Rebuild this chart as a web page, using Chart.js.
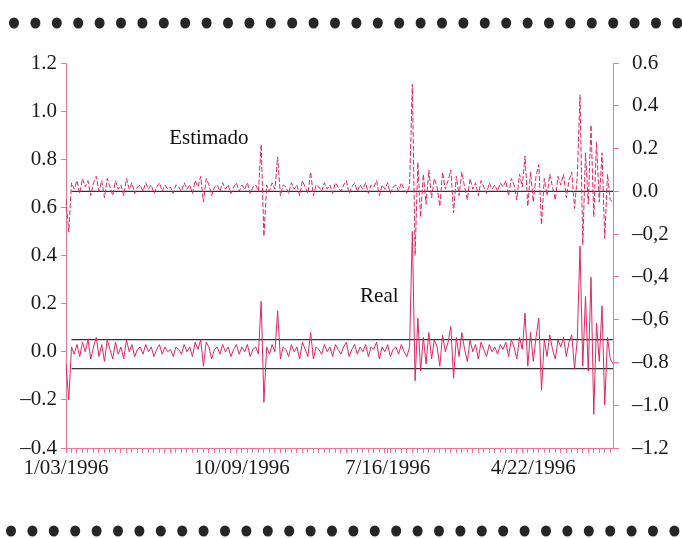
<!DOCTYPE html>
<html>
<head>
<meta charset="utf-8">
<script src="https://cdn.jsdelivr.net/npm/chart.js@4"></script>
<style>
  body { margin: 0; background: #fff; }
  #wrap { width: 682px; height: 538px; position: relative; }
</style>
</head>
<body>
<div id="wrap"><canvas id="myChart" width="682" height="538"></canvas></div>
<script>
// valores (Real = eje izq., Estimado = eje der.)
var realValues = [
  -0.05, -0.20, 0.02, -0.01, 0.03, -0.02, 0.04, 0.00, 0.05, -0.03,
  0.02, 0.06, -0.02, 0.03, -0.04, 0.05, 0.01, -0.03, 0.04, -0.01,
  0.02, -0.03, 0.05, 0.00, 0.03, -0.02, 0.01, 0.02, -0.01, 0.03,
  0.00, 0.02, -0.02, 0.01, 0.03, -0.01, 0.02, 0.00, 0.01, -0.02,
  0.02, 0.01, -0.01, 0.03, 0.00, 0.02, -0.02, 0.04, 0.01, 0.05,
  -0.06, 0.04, 0.02, -0.03, 0.01, 0.02, -0.01, 0.03, 0.00, 0.02,
  -0.02, 0.01, 0.03, -0.01, 0.02, 0.00, 0.03, -0.02, 0.01, 0.02,
  -0.01, 0.21, -0.21, 0.02, -0.01, 0.03, 0.00, 0.17, -0.03, 0.02,
  0.01, -0.02, 0.03, 0.00, 0.02, -0.03, 0.04, 0.01, -0.02, 0.08,
  -0.03, 0.02, 0.01, -0.01, 0.03, 0.00, 0.02, -0.02, 0.03, 0.01,
  -0.01, 0.02, 0.04, -0.02, 0.01, 0.03, -0.01, 0.02, 0.00, 0.03,
  -0.02, 0.02, 0.01, 0.04, -0.03, 0.02, 0.00, 0.03, -0.02, 0.01,
  0.02, -0.01, 0.03, 0.00, -0.02, 0.02, 0.50, -0.12, 0.14, -0.08,
  0.06, -0.05, 0.08, -0.03, 0.05, 0.02, -0.06, 0.07, 0.00, 0.04,
  0.105, -0.11, 0.06, -0.02, 0.08, 0.01, -0.04, 0.05, 0.00, 0.03,
  -0.03, 0.04, 0.01, -0.02, 0.03, 0.00, 0.02, -0.01, 0.03, 0.01,
  0.04, -0.02, 0.05, 0.02, -0.03, 0.06, 0.01, 0.16, -0.06, 0.08,
  -0.04, 0.06, 0.14, -0.16, 0.05, -0.02, 0.07, 0.01, -0.03, 0.05,
  0.02, 0.06, -0.02, 0.04, 0.07, -0.07, 0.05, 0.44, -0.06, 0.23,
  -0.08, 0.31, -0.26, 0.12, -0.04, 0.19, -0.22, 0.06, -0.03, -0.05
];
var estValues = [
  -0.04, -0.19, 0.04, 0.01, 0.05, -0.01, 0.06, 0.02, 0.05, -0.02,
  0.04, 0.07, 0.00, 0.05, -0.03, 0.06, 0.02, -0.02, 0.05, 0.01,
  0.03, -0.02, 0.06, 0.01, 0.04, -0.01, 0.02, 0.03, 0.00, 0.04,
  0.01, 0.03, -0.01, 0.02, 0.04, 0.00, 0.03, 0.01, 0.02, -0.01,
  0.03, 0.02, 0.00, 0.04, 0.01, 0.03, -0.01, 0.05, 0.02, 0.07,
  -0.05, 0.06, 0.03, -0.02, 0.02, 0.03, 0.00, 0.04, 0.01, 0.03,
  -0.01, 0.02, 0.04, 0.00, 0.03, 0.01, 0.04, -0.01, 0.02, 0.03,
  0.00, 0.22, -0.21, 0.03, 0.00, 0.04, 0.01, 0.16, -0.02, 0.03,
  0.02, -0.01, 0.04, 0.01, 0.03, -0.02, 0.05, 0.02, -0.01, 0.09,
  -0.02, 0.03, 0.02, 0.00, 0.04, 0.01, 0.03, -0.01, 0.04, 0.02,
  0.00, 0.03, 0.05, -0.01, 0.02, 0.04, 0.00, 0.03, 0.01, 0.04,
  -0.01, 0.03, 0.02, 0.05, -0.02, 0.03, 0.01, 0.04, -0.01, 0.02,
  0.03, 0.00, 0.04, 0.01, -0.01, 0.03, 0.50, -0.30, 0.135, -0.12,
  0.08, -0.06, 0.10, -0.03, 0.06, 0.02, -0.07, 0.09, 0.01, 0.05,
  0.10, -0.10, 0.07, -0.02, 0.09, 0.02, -0.04, 0.06, 0.01, 0.04,
  -0.02, 0.05, 0.02, -0.01, 0.04, 0.01, 0.03, 0.00, 0.04, 0.02,
  0.05, -0.02, 0.06, 0.03, -0.04, 0.08, 0.02, 0.165, -0.07, 0.09,
  -0.05, 0.07, 0.125, -0.155, 0.06, -0.02, 0.08, 0.02, -0.04, 0.07,
  0.03, 0.08, -0.03, 0.05, 0.09, -0.08, 0.07, 0.45, -0.25, 0.18,
  -0.06, 0.31, -0.12, 0.23, -0.05, 0.18, -0.22, 0.08, -0.04, -0.05
];
var categories = realValues.map(function (v, i) { return i; });

// etiquetas del eje x (indice -> fecha)
var dateTickIndex = [0, 64, 117, 170];
var dateTickText = ['1/03/1996', '10/09/1996', '7/16/1996', '4/22/1996'];

var leftTickLabels = ['\u20130.4', '\u20130.2', '0.0', '0.2', '0.4', '0.6', '0.8', '1.0', '1.2'];
var rightTickLabels = ['\u20131.2', '\u20131.0', '\u20130.8', '\u20130,6', '\u20130,4', '\u20130,2', '0.0', '0.2', '0.4', '0.6'];

// lineas negras de referencia
var realBandUpper = 0.05;
var realBandLower = -0.07;
var estZero = 0.0;
var bandStart = 2;

var pink = 'rgb(226, 38, 96)';
var axisPink = 'rgb(236, 120, 150)';
var serif = "'Liberation Serif', 'DejaVu Serif', serif";

function flatLine(v) {
  return [{ x: bandStart, y: v }, { x: categories.length - 1, y: v }];
}

// puntos negros arriba y abajo (decoracion de la pagina)
var dotsPlugin = {
  id: 'dots',
  afterDraw: function (chart) {
    var ctx = chart.ctx;
    ctx.save();
    ctx.fillStyle = '#262626';
    var rows = [[14, 23], [11, 531]];
    rows.forEach(function (r) {
      for (var x = r[0]; x < chart.width; x += 21.4) {
        ctx.beginPath();
        ctx.ellipse(x, r[1], 5, 5.5, 0, 0, Math.PI * 2);
        ctx.fill();
      }
    });
    ctx.restore();
  }
};

// textos "Estimado" y "Real" dentro del grafico
var seriesNames = ['Estimado', 'Real'];
var seriesNameAt = [[52, 'y1', 0.245], [114, 'y', 0.23]];
var namesPlugin = {
  id: 'names',
  afterDatasetsDraw: function (chart) {
    var ctx = chart.ctx;
    ctx.save();
    ctx.font = '21px ' + serif;
    ctx.fillStyle = '#111';
    ctx.textAlign = 'center';
    ctx.textBaseline = 'middle';
    seriesNames.forEach(function (t, i) {
      var p = seriesNameAt[i];
      var x = chart.scales.x.getPixelForValue(p[0]);
      var y = chart.scales[p[1]].getPixelForValue(p[2]);
      ctx.fillText(t, x, y);
    });
    ctx.restore();
  }
};

var ctx = document.getElementById('myChart').getContext('2d');
var myChart = new Chart(ctx, {
  type: 'line',
  data: {
    labels: categories,
    datasets: [
      { label: 'Real', data: realValues, yAxisID: 'y', borderColor: pink, borderWidth: 1, pointRadius: 0, tension: 0 },
      { label: 'Estimado', data: estValues, yAxisID: 'y1', borderColor: pink, borderWidth: 1, pointRadius: 0, tension: 0, borderDash: [5, 2] },
      { label: 'sup', data: flatLine(realBandUpper), yAxisID: 'y', borderColor: '#333', borderWidth: 1.2, pointRadius: 0 },
      { label: 'inf', data: flatLine(realBandLower), yAxisID: 'y', borderColor: '#333', borderWidth: 1.2, pointRadius: 0 },
      { label: 'cero', data: flatLine(estZero), yAxisID: 'y1', borderColor: '#333', borderWidth: 1.2, pointRadius: 0 }
    ]
  },
  options: {
    responsive: false,
    animation: false,
    layout: { padding: { top: 63, left: 0, right: 0, bottom: 0 } },
    plugins: { legend: { display: false }, tooltip: { enabled: false } },
    scales: {
      x: {
        type: 'category',
        grid: { drawOnChartArea: false, tickLength: 5, color: axisPink },
        border: { color: axisPink, width: 1 },
        ticks: {
          autoSkip: false, maxRotation: 0, minRotation: 0, padding: 3,
          color: '#1a1a1a', font: { family: serif, size: 21 },
          callback: function (v, i) {
            var k = dateTickIndex.indexOf(i);
            if (k >= 0) return dateTickText[k];
            return i % 2 === 0 ? '' : null;
          }
        },
        afterFit: function (s) { s.height = 90; }
      },
      y: {
        position: 'left', min: -0.4, max: 1.2,
        grid: { drawOnChartArea: false, tickLength: 5, color: axisPink },
        border: { color: axisPink, width: 1 },
        ticks: {
          stepSize: 0.2, padding: 4, color: '#1a1a1a', font: { family: serif, size: 21 },
          callback: function (v, i) { return leftTickLabels[i]; }
        },
        afterFit: function (s) { s.width = 66; }
      },
      y1: {
        position: 'right', min: -1.2, max: 0.6,
        grid: { drawOnChartArea: false, tickLength: 6, color: axisPink },
        border: { color: axisPink, width: 1 },
        ticks: {
          stepSize: 0.2, padding: 13, color: '#1a1a1a', font: { family: serif, size: 21 },
          callback: function (v, i) { return rightTickLabels[i]; }
        },
        afterFit: function (s) { s.width = 69; }
      }
    }
  },
  plugins: [dotsPlugin, namesPlugin]
});
</script>
</body>
</html>
